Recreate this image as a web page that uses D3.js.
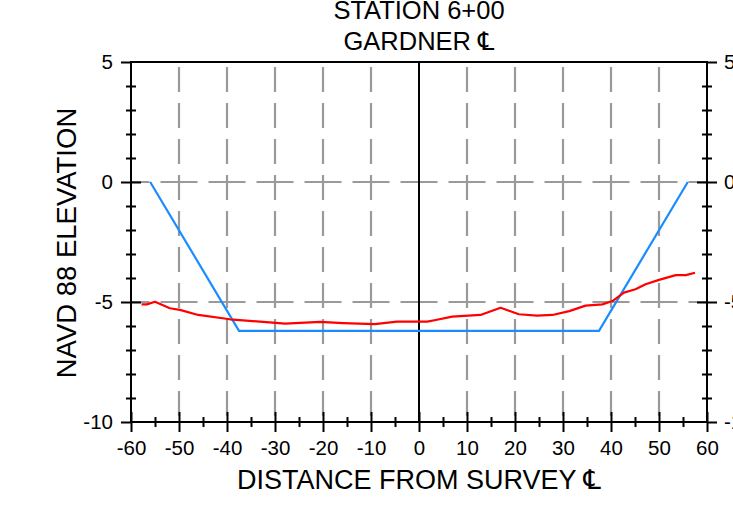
<!DOCTYPE html>
<html>
<head>
<meta charset="utf-8">
<script src="https://cdn.jsdelivr.net/npm/d3@7"></script>
<style>
  html, body { margin: 0; padding: 0; background: #fff; overflow: hidden; }
  svg { display: block; font-family: "Liberation Sans", Arial, sans-serif; }
</style>
</head>
<body>
<svg id="chart" width="733" height="526"></svg>
<script>
// ---- data ----
const titleLines = ["STATION 6+00", "GARDNER "];
const xTitle = "DISTANCE FROM SURVEY ";
const yTitle = "NAVD 88 ELEVATION";
const clSymbol = "\u2104";

const xMajorTicks = [-60, -50, -40, -30, -20, -10, 0, 10, 20, 30, 40, 50, 60];
const xMinorTicks = [-55, -45, -35, -25, -15, -5, 5, 15, 25, 35, 45, 55];
const yMajorTicks = [5, 0, -5, -10];
const yMinorTicks = [4, 3, 2, 1, -1, -2, -3, -4, -6, -7, -8, -9];
const xGrid = [-50, -40, -30, -20, -10, 10, 20, 30, 40, 50];
const yGrid = [0, -5];

// design template section (blue)
const designX = [-56, -37.5, 37.5, 56];
const designY = [0, -6.2, -6.2, 0];

// existing ground profile (red)
const groundX = [-57.8, -56.7, -55.0, -51.9, -49.8, -46.0, -39.4, -33.8, -27.9, -20.6, -15.8, -9.2, -4.6, 0, 1.7, 3.5, 6.9, 12.8, 17.0, 20.8, 24.6, 27.8, 31.3, 34.7, 38.2, 40.3, 42.7, 45.1, 47.2, 50.0, 53.5, 55.6, 57.5];
const groundY = [-5.10, -5.10, -4.99, -5.26, -5.33, -5.54, -5.72, -5.81, -5.90, -5.83, -5.88, -5.92, -5.82, -5.82, -5.82, -5.75, -5.61, -5.54, -5.24, -5.51, -5.57, -5.54, -5.38, -5.15, -5.10, -4.96, -4.61, -4.47, -4.26, -4.08, -3.88, -3.88, -3.78];

// ---- layout ----
const L = 131, R = 707, T = 62, B = 422;
const svg = d3.select("#chart");
const x = d3.scaleLinear().domain([-60, 60]).range([L, R]);
const y = d3.scaleLinear().domain([-10, 5]).range([B, T]);

const tickFont = "20.5px";
const fmt = d => String(d);

// grid lines
const g = svg.append("g");
g.selectAll(".vg").data(xGrid).join("line")
  .attr("x1", d => x(d)).attr("x2", d => x(d))
  .attr("y1", T).attr("y2", B)
  .attr("stroke", "#9a9a9a").attr("stroke-width", 2.2)
  .attr("stroke-dasharray", "25,11").attr("stroke-dashoffset", 31);
g.selectAll(".hg").data(yGrid).join("line")
  .attr("x1", L).attr("x2", R)
  .attr("y1", d => y(d)).attr("y2", d => y(d))
  .attr("stroke", "#9a9a9a").attr("stroke-width", 2.2)
  .attr("stroke-dasharray", "37,11").attr("stroke-dashoffset", 18.5);

// center line
svg.append("line")
  .attr("x1", x(0)).attr("x2", x(0)).attr("y1", T).attr("y2", B)
  .attr("stroke", "#000").attr("stroke-width", 2);

// data lines
const line = d3.line().x(d => x(d[0])).y(d => y(d[1]));
svg.append("path")
  .datum(designX.map((v, i) => [v, designY[i]]))
  .attr("d", line).attr("fill", "none")
  .attr("stroke", "#1a8cff").attr("stroke-width", 2.2);
svg.append("path")
  .datum(groundX.map((v, i) => [v, groundY[i]]))
  .attr("d", line).attr("fill", "none")
  .attr("stroke", "#ff0000").attr("stroke-width", 2.2)
  .attr("stroke-linejoin", "round");

// axes
function styleAxis(sel) {
  sel.select(".domain").remove();
  sel.selectAll(".tick line").attr("stroke", "#000").attr("stroke-width", 2);
  sel.selectAll(".tick text").attr("fill", "#000").style("font-size", tickFont)
     .style("font-family", "'Liberation Sans', Arial, sans-serif");
}
// bottom: outer major ticks with labels
const xb = svg.append("g").attr("transform", `translate(0,${B})`)
  .call(d3.axisBottom(x).tickValues(xMajorTicks).tickSize(10).tickPadding(8).tickFormat(fmt));
styleAxis(xb);
xb.selectAll(".tick text").attr("dy", "0.71em");
// bottom inner major ticks
const xbi = svg.append("g").attr("transform", `translate(0,${B})`)
  .call(d3.axisTop(x).tickValues(xMajorTicks).tickSize(10).tickFormat(""));
styleAxis(xbi);
// bottom minor ticks crossing
const xbm = svg.append("g").attr("transform", `translate(0,${B + 5})`)
  .call(d3.axisTop(x).tickValues(xMinorTicks).tickSize(10).tickFormat(""));
styleAxis(xbm);

// left
const yl = svg.append("g").attr("transform", `translate(${L},0)`)
  .call(d3.axisLeft(y).tickValues(yMajorTicks).tickSize(10).tickPadding(8).tickFormat(fmt));
styleAxis(yl);
const yli = svg.append("g").attr("transform", `translate(${L},0)`)
  .call(d3.axisRight(y).tickValues(yMajorTicks.filter(d => d !== 5 && d !== -10)).tickSize(10).tickFormat(""));
styleAxis(yli);
const ylm = svg.append("g").attr("transform", `translate(${L - 5},0)`)
  .call(d3.axisRight(y).tickValues(yMinorTicks).tickSize(10).tickFormat(""));
styleAxis(ylm);

// right
const yr = svg.append("g").attr("transform", `translate(${R},0)`)
  .call(d3.axisRight(y).tickValues(yMajorTicks).tickSize(10).tickPadding(7).tickFormat(fmt));
styleAxis(yr);
const yri = svg.append("g").attr("transform", `translate(${R},0)`)
  .call(d3.axisLeft(y).tickValues(yMajorTicks.filter(d => d !== 5 && d !== -10)).tickSize(10).tickFormat(""));
styleAxis(yri);
const yrm = svg.append("g").attr("transform", `translate(${R - 5},0)`)
  .call(d3.axisRight(y).tickValues(yMinorTicks).tickSize(10).tickFormat(""));
styleAxis(yrm);

// frame lines
svg.append("line").attr("x1", L - 1).attr("x2", R + 1).attr("y1", T).attr("y2", T).attr("stroke", "#000").attr("stroke-width", 2);
svg.append("line").attr("x1", L - 1).attr("x2", R + 1).attr("y1", B).attr("y2", B).attr("stroke", "#000").attr("stroke-width", 2);
svg.append("line").attr("x1", L).attr("x2", L).attr("y1", T).attr("y2", B).attr("stroke", "#000").attr("stroke-width", 2);
svg.append("line").attr("x1", R).attr("x2", R).attr("y1", T).attr("y2", B).attr("stroke", "#000").attr("stroke-width", 2);

// titles
const cx = x(0);
function addCL(textSel, size) {
  textSel.append("tspan").text(clSymbol)
    .style("font-family", "'DejaVu Sans', sans-serif").style("font-size", size);
}
svg.append("text").attr("x", cx).attr("y", 18.5).attr("text-anchor", "middle")
  .style("font-size", "25.5px").text(titleLines[0]);
const t2 = svg.append("text").attr("x", cx).attr("y", 50).attr("text-anchor", "middle")
  .style("font-size", "25.5px");
t2.append("tspan").text(titleLines[1]);
addCL(t2, "25.5px");

const xt = svg.append("text").attr("x", cx).attr("y", 489).attr("text-anchor", "middle")
  .style("font-size", "27px");
xt.append("tspan").text(xTitle);
addCL(xt, "27px");

svg.append("text").attr("transform", `translate(76,${(T + B) / 2 + 1}) rotate(-90)`)
  .attr("text-anchor", "middle").style("font-size", "27.5px").text(yTitle);
</script>
</body>
</html>
